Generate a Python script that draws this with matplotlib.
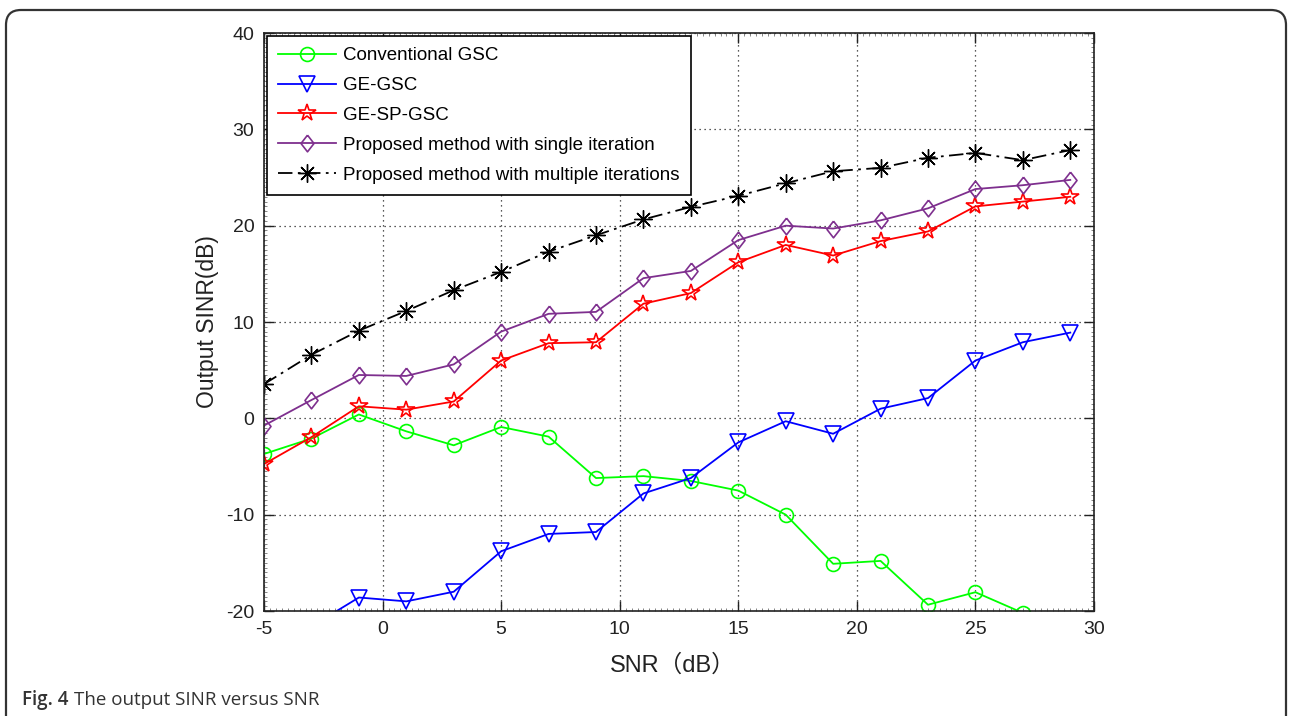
import matplotlib
matplotlib.use("Agg")
import matplotlib.pyplot as plt
from matplotlib.patches import FancyBboxPatch
from matplotlib.ticker import MultipleLocator

# SNR values (dB)
snr = [-5, -3, -1, 1, 3, 5, 7, 9, 11, 13, 15, 17, 19, 21, 23, 25, 27, 29]

conv_gsc = [-3.7, -2.1, 0.4, -1.35, -2.8, -0.9, -1.9, -6.2, -6.0, -6.5, -7.5, -10.0,
            -15.1, -14.8, -19.35, -18.05, -20.2, -23.0]
ge_gsc = [-23.0, -21.6, -18.6, -19.0, -18.0, -13.8, -12.0, -11.8, -7.8, -6.2, -2.5, -0.3,
          -1.6, 1.0, 2.1, 6.0, 7.9, 8.9]
ge_sp_gsc = [-4.75, -1.95, 1.25, 0.9, 1.75, 6.0, 7.8, 7.9, 11.9, 13.0, 16.2, 18.0,
             16.9, 18.4, 19.4, 22.0, 22.5, 23.0]
single_iter = [-0.75, 1.9, 4.5, 4.4, 5.6, 9.0, 10.85, 11.05, 14.55, 15.3, 18.5, 20.0,
               19.7, 20.55, 21.8, 23.8, 24.2, 24.75]
multi_iter = [3.55, 6.6, 9.1, 11.15, 13.3, 15.2, 17.3, 19.0, 20.65, 21.95, 23.1, 24.4,
              25.65, 26.0, 27.05, 27.55, 26.8, 27.85]

labels = ["Conventional GSC", "GE-GSC", "GE-SP-GSC",
          "Proposed method with single iteration",
          "Proposed method with multiple iterations"]

font = ["Liberation Sans", "Noto Sans CJK SC", "DejaVu Sans"]
plt.rcParams["font.family"] = font
plt.rcParams["axes.unicode_minus"] = False

fig = plt.figure(figsize=(12.9, 7.16), dpi=100)
ax = fig.add_axes([264 / 1290, 1 - 611 / 716, 830 / 1290, 578 / 716])

diamond = [(0, 1), (0.78, 0), (0, -1), (-0.78, 0), (0, 1)]
lw = 1.3
ax.plot(snr, conv_gsc, color="#00ff00", lw=lw, marker="o", ms=10, mfc="none", mew=1.2, label=labels[0])
ax.plot(snr, ge_gsc, color="#0000ff", lw=lw, marker="v", ms=11, mfc="none", mew=1.2, label=labels[1])
ax.plot(snr, ge_sp_gsc, color="#ff0000", lw=lw, marker="*", ms=13, mfc="none", mew=1.2, label=labels[2])
ax.plot(snr, single_iter, color="#7e2f8e", lw=lw, marker=diamond, ms=12, mfc="none", mew=1.2, label=labels[3])
ax.plot(snr, multi_iter, color="black", lw=lw, ls=(0, (8, 3, 1.5, 3)), marker=(8, 2, 0), ms=13,
        mew=1.0, label=labels[4])

ax.set_xlim(-5, 30)
ax.set_ylim(-20, 40)
ax.xaxis.set_major_locator(MultipleLocator(5))
ax.yaxis.set_major_locator(MultipleLocator(10))
ax.xaxis.set_minor_locator(MultipleLocator(0.25))
ax.yaxis.set_minor_locator(MultipleLocator(0.5))
ax.tick_params(which="major", direction="in", length=7, width=1, top=True, right=True,
               labelsize=14, pad=7, colors="#222222")
ax.tick_params(which="minor", direction="in", length=2, width=0.5, top=True, right=True,
               colors="#555555")
for s in ax.spines.values():
    s.set_linewidth(1.2)
    s.set_color("#222222")

ax.grid(True, which="major", color="#222222", ls=(0, (1, 3)), lw=0.9)

ax.set_xlabel("SNR（dB）", fontsize=17, color="#222222")
ax.set_ylabel("Output SINR(dB)", fontsize=16.5, color="#222222")
ax.xaxis.set_label_coords(0.493, -0.075)
ax.yaxis.set_label_coords(-0.054, 0.5)

leg = ax.legend(loc="upper left", fontsize=13.5, handlelength=3.1, handletextpad=0.35,
                labelspacing=0.68, borderaxespad=0.15, borderpad=0.6, fancybox=False,
                edgecolor="black", framealpha=1)
leg.get_frame().set_linewidth(1.2)

# rounded frame around the figure
frame = FancyBboxPatch((0.06, -0.5), 12.80, 7.56, boxstyle="round,pad=0,rounding_size=0.15",
                       transform=fig.dpi_scale_trans, fill=False, edgecolor="#333333", lw=1.6)
fig.patches.append(frame)

cap = fig.text(22 / 1290, 1 - 700 / 716, "Fig. 4", fontsize=13.5, fontweight="semibold",
               color="#333333", family=["Open Sans"], va="center")
ax.annotate("The output SINR versus SNR", xy=(1, 0.5), xycoords=cap, xytext=(4, 0),
            textcoords="offset points", fontsize=13.5, color="#333333", family=["Open Sans"],
            va="center", ha="left", annotation_clip=False)

fig.savefig("out.png", dpi=100)
